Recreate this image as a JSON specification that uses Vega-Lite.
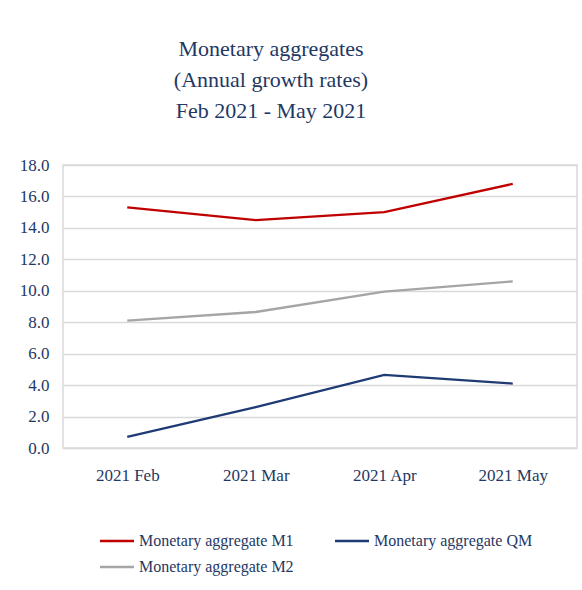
{
  "$schema": "https://vega.github.io/schema/vega-lite/v6.json",
  "width": 514,
  "height": 283,
  "autosize": "none",
  "padding": {"left": 63, "top": 165, "right": 5, "bottom": 142},
  "background": "white",
  "title": {
    "text": ["Monetary aggregates", "(Annual growth rates)", "Feb 2021 - May 2021"],
    "font": "Liberation Serif",
    "fontSize": 22,
    "fontWeight": "normal",
    "color": "#1F3864",
    "lineHeight": 31,
    "anchor": "middle",
    "dx": -49,
    "offset": 33
  },
  "config": {
    "view": {"stroke": "#D9D9D9", "strokeWidth": 1.5},
    "axis": {
      "labelFont": "Liberation Serif",
      "labelFontSize": 17,
      "labelColor": "#1F3864",
      "domain": false,
      "ticks": false,
      "title": null
    },
    "legend": {
      "labelFont": "Liberation Serif",
      "labelFontSize": 16,
      "labelColor": "#1F3864",
      "labelLimit": 0
    }
  },
  "data": {
    "values": [
      {"month": "2021 Feb", "series": "Monetary aggregate M1", "value": 15.3},
      {"month": "2021 Mar", "series": "Monetary aggregate M1", "value": 14.5},
      {"month": "2021 Apr", "series": "Monetary aggregate M1", "value": 15.0},
      {"month": "2021 May", "series": "Monetary aggregate M1", "value": 16.8},
      {"month": "2021 Feb", "series": "Monetary aggregate M2", "value": 8.1},
      {"month": "2021 Mar", "series": "Monetary aggregate M2", "value": 8.65},
      {"month": "2021 Apr", "series": "Monetary aggregate M2", "value": 9.95},
      {"month": "2021 May", "series": "Monetary aggregate M2", "value": 10.6},
      {"month": "2021 Feb", "series": "Monetary aggregate QM", "value": 0.7},
      {"month": "2021 Mar", "series": "Monetary aggregate QM", "value": 2.6},
      {"month": "2021 Apr", "series": "Monetary aggregate QM", "value": 4.65},
      {"month": "2021 May", "series": "Monetary aggregate QM", "value": 4.1}
    ]
  },
  "mark": {"type": "line", "strokeWidth": 2.3},
  "encoding": {
    "x": {
      "field": "month",
      "type": "ordinal",
      "sort": ["2021 Feb", "2021 Mar", "2021 Apr", "2021 May"],
      "scale": {"type": "point", "padding": 0.5},
      "axis": {"labelAngle": 0, "labelPadding": 19, "grid": false}
    },
    "y": {
      "field": "value",
      "type": "quantitative",
      "scale": {"domain": [0, 18], "nice": false},
      "axis": {
        "values": [0, 2, 4, 6, 8, 10, 12, 14, 16, 18],
        "format": ".1f",
        "labelPadding": 14,
        "gridColor": "#D9D9D9",
        "gridWidth": 1.5
      }
    },
    "color": {
      "field": "series",
      "type": "nominal",
      "scale": {
        "domain": ["Monetary aggregate M1", "Monetary aggregate QM", "Monetary aggregate M2"],
        "range": ["#C00000", "#1F3B73", "#A5A5A5"]
      },
      "legend": {
        "title": null,
        "orient": "none",
        "legendX": 44,
        "legendY": 366,
        "direction": "horizontal",
        "columns": 2,
        "columnPadding": 36,
        "rowPadding": 8,
        "symbolType": "M-2,0H2",
        "symbolSize": 289,
        "symbolStrokeWidth": 2.5,
        "labelOffset": 12
      }
    }
  }
}
